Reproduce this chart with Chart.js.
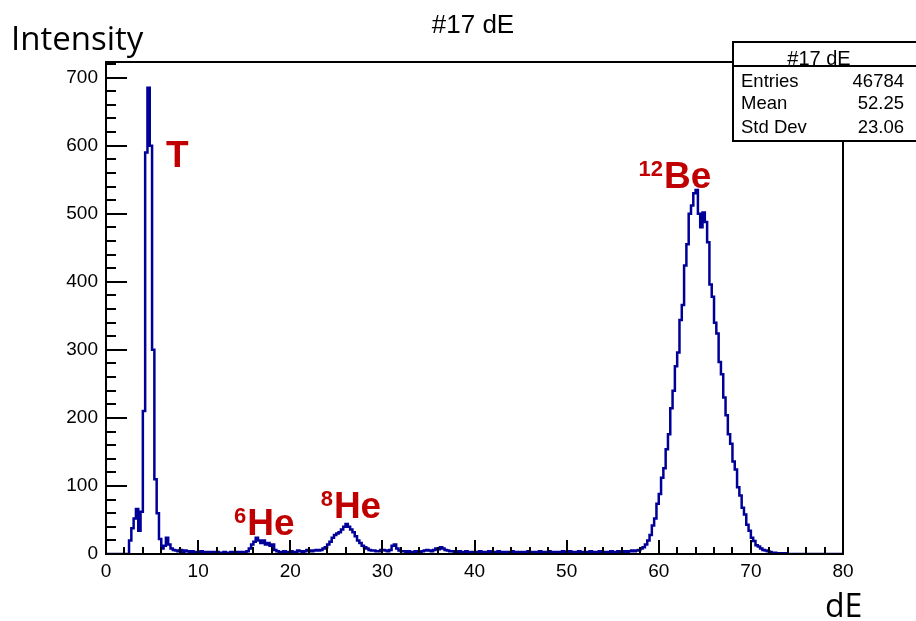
<!DOCTYPE html>
<html>
<head>
<meta charset="utf-8">
<script src="https://cdn.jsdelivr.net/npm/chart.js@4.4.1/dist/chart.umd.min.js"></script>
<style>
  html, body { margin: 0; padding: 0; background: #fff; }
  #wrap { width: 916px; height: 621px; }
</style>
</head>
<body>
<div id="wrap"><canvas id="chart" width="916" height="621"></canvas></div>
<script>
// histogram of dE, bins of 0.25 from 0 to 80 (20 bins per line = 5 units)
const binWidth = 0.25;
const counts = [
  0, 0, 0, 0, 0, 0, 0, 0, 0, 0, 20, 38, 52, 66, 34, 62, 210, 590, 685, 600,          // 0-5
  300, 110, 60, 22, 8, 12, 24, 14, 8, 6, 5, 4, 6, 3, 5, 4, 3, 4, 3, 3,                // 5-10
  2, 4, 3, 2, 3, 2, 3, 2, 3, 2, 2, 3, 2, 2, 3, 2, 2, 3, 2, 3,                         // 10-15
  3, 4, 8, 14, 18, 24, 20, 16, 20, 14, 16, 12, 14, 6, 4, 3, 3, 4, 3, 3,               // 15-20
  4, 3, 3, 5, 4, 3, 4, 6, 5, 4, 5, 6, 5, 6, 8, 10, 14, 18, 24, 28,                    // 20-25
  30, 32, 36, 40, 44, 40, 36, 32, 26, 20, 16, 12, 10, 8, 6, 5, 5, 4, 4, 6,            // 25-30
  6, 5, 4, 6, 12, 14, 8, 5, 4, 4, 3, 4, 3, 3, 4, 3, 3, 4, 5, 6,                       // 30-35
  5, 4, 6, 8, 7, 10, 8, 6, 5, 4, 4, 3, 3, 4, 3, 3, 4, 3, 3, 3,                        // 35-40
  3, 2, 4, 3, 2, 3, 4, 3, 2, 3, 4, 3, 2, 3, 3, 2, 4, 3, 2, 3,                         // 40-45
  3, 2, 3, 4, 3, 2, 3, 3, 4, 3, 2, 3, 4, 3, 2, 3, 3, 2, 4, 3,                         // 45-50
  3, 4, 2, 3, 3, 4, 2, 3, 3, 2, 4, 3, 2, 3, 4, 3, 2, 3, 3, 4,                         // 50-55
  3, 2, 4, 3, 3, 4, 3, 4, 5, 4, 5, 6, 8, 10, 14, 20, 28, 42, 52, 74,                  // 55-60
  88, 112, 126, 154, 176, 214, 240, 276, 296, 344, 366, 424, 455, 500, 512, 530, 535, 500, 480, 502, // 60-65
  488, 458, 396, 378, 340, 324, 282, 264, 230, 204, 176, 162, 136, 124, 98, 86, 68, 58, 43, 34,    // 65-70
  24, 19, 13, 11, 8, 6, 5, 4, 3, 2, 2, 1, 1, 1, 0, 1, 0, 0, 0, 0,                     // 70-75
  0, 0, 0, 0, 0, 0, 0, 0, 0, 0, 0, 0, 0, 0, 0, 0, 0, 0, 0, 0                          // 75-80
];

const xRange = [0, 80];
const yRange = [0, 723];
const xTicks = [0, 10, 20, 30, 40, 50, 60, 70, 80];
const yTicks = [0, 100, 200, 300, 400, 500, 600, 700];
const xMinorStep = 2;
const yMinorStep = 20;

const histTitle = '#17 dE';
const yTitle = 'Intensity';
const xTitle = 'dE';
const statsNames = ['Entries', 'Mean', 'Std Dev'];
const statsValues = ['46784', '52.25', '23.06'];

// peak labels: superscript, symbol, data position of the label (left, baseline)
const peakSup = ['', '6', '8', '12'];
const peakName = ['T', 'He', 'He', 'Be'];
const peakX = [6.5, 13.9, 23.3, 57.8];
const peakY = [568, 28, 53, 538];

const points = counts.map((c, i) => ({x: i * binWidth, y: c}));
points.push({x: counts.length * binWidth, y: counts[counts.length - 1]});

const FONT = 'Liberation Sans, Arial, sans-serif';

const rootFrame = {
  id: 'rootFrame',
  afterDatasetsDraw(chart) {
    const {ctx, chartArea: a, scales: {x, y}} = chart;
    ctx.save();
    ctx.strokeStyle = '#000';
    ctx.lineWidth = 2;
    ctx.strokeRect(a.left, a.top, a.right - a.left, a.bottom - a.top);
    ctx.beginPath();
    for (let v = xRange[0]; v <= xRange[1]; v += xMinorStep) {
      const px = Math.round(x.getPixelForValue(v));
      const len = v % 10 === 0 ? 14 : 7;
      ctx.moveTo(px, a.bottom);
      ctx.lineTo(px, a.bottom - len);
    }
    for (let v = yRange[0]; v <= yRange[1]; v += yMinorStep) {
      const py = Math.round(y.getPixelForValue(v));
      const len = v % 100 === 0 ? 21 : 10;
      ctx.moveTo(a.left, py);
      ctx.lineTo(a.left + len, py);
    }
    ctx.stroke();
    ctx.restore();
  },
  afterDraw(chart) {
    const {ctx, scales: {x, y}} = chart;
    ctx.save();
    // peak labels
    ctx.fillStyle = '#c00000';
    ctx.textBaseline = 'alphabetic';
    for (let i = 0; i < peakName.length; i++) {
      let px = x.getPixelForValue(peakX[i]);
      const py = y.getPixelForValue(peakY[i]);
      if (peakSup[i]) {
        ctx.font = 'bold 22px ' + FONT;
        ctx.fillText(peakSup[i], px, py - 12);
        px += ctx.measureText(peakSup[i]).width + 1;
      }
      ctx.font = 'bold 37px ' + FONT;
      ctx.fillText(peakName[i], px, py);
    }
    // titles
    ctx.fillStyle = '#000';
    ctx.font = '26px ' + FONT;
    ctx.textAlign = 'center';
    ctx.fillText(histTitle, 473, 33);
    ctx.textAlign = 'left';
    ctx.font = '33px "Open Sans", sans-serif';
    ctx.fillText(yTitle, 11, 50);
    ctx.font = '32px "Open Sans", sans-serif';
    ctx.fillText(xTitle, 825, 617);
    // stats box
    const bx = 733, by = 42, bw = 190, bh = 99;
    ctx.fillStyle = '#fff';
    ctx.fillRect(bx, by, bw, bh);
    ctx.strokeStyle = '#000';
    ctx.lineWidth = 2;
    ctx.strokeRect(bx, by, bw, bh);
    ctx.beginPath();
    ctx.moveTo(bx, 66);
    ctx.lineTo(bx + bw, 66);
    ctx.stroke();
    ctx.fillStyle = '#000';
    ctx.font = '20px ' + FONT;
    ctx.textAlign = 'center';
    ctx.fillText(histTitle, 819, 65);
    ctx.font = '18.5px ' + FONT;
    const rows = [87, 109, 133];
    statsNames.forEach((n, i) => {
      ctx.textAlign = 'left';
      ctx.fillText(n, 741, rows[i]);
      ctx.textAlign = 'right';
      ctx.fillText(statsValues[i], 904, rows[i]);
    });
    ctx.restore();
  }
};

new Chart(document.getElementById('chart'), {
  type: 'line',
  data: {
    datasets: [{
      data: points,
      borderColor: '#000099',
      borderWidth: 2.5,
      pointRadius: 0,
      fill: false,
      stepped: true,
      tension: 0
    }]
  },
  options: {
    responsive: false,
    animation: false,
    events: [],
    layout: {padding: {left: 50, right: 73, top: 62, bottom: 27}},
    plugins: {legend: {display: false}, title: {display: false}, tooltip: {enabled: false}},
    scales: {
      x: {
        type: 'linear',
        min: xRange[0],
        max: xRange[1],
        border: {display: false},
        grid: {display: false, drawTicks: false},
        afterBuildTicks: axis => { axis.ticks = xTicks.map(v => ({value: v})); },
        afterFit: axis => { axis.height = 40; },
        ticks: {color: '#000', padding: 6, maxRotation: 0, font: {family: FONT, size: 19}}
      },
      y: {
        type: 'linear',
        min: yRange[0],
        max: yRange[1],
        border: {display: false},
        grid: {display: false, drawTicks: false},
        afterBuildTicks: axis => { axis.ticks = yTicks.map(v => ({value: v})); },
        afterFit: axis => { axis.width = 56; },
        ticks: {color: '#000', padding: 8, font: {family: FONT, size: 19}}
      }
    }
  },
  plugins: [rootFrame]
});
</script>
</body>
</html>
